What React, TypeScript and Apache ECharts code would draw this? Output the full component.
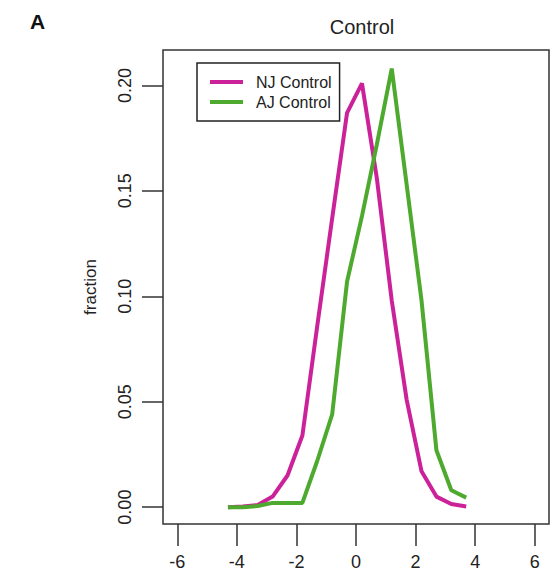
import React, { useEffect, useRef } from "react";
import * as echarts from "echarts";

// Bin centres (x) shared by both series
const xValues = [-4.3, -3.8, -3.3, -2.8, -2.3, -1.8, -1.3, -0.8, -0.3, 0.2, 0.7, 1.2, 1.7, 2.2, 2.7, 3.2, 3.7];
const njControl = [0.0, 0.0003, 0.001, 0.005, 0.015, 0.034, 0.086, 0.137, 0.187, 0.201, 0.156, 0.098, 0.051, 0.017, 0.005, 0.0015, 0.0003];
const ajControl = [0.0, 0.0, 0.0005, 0.002, 0.002, 0.002, 0.022, 0.044, 0.107, 0.138, 0.172, 0.208, 0.153, 0.098, 0.027, 0.008, 0.0045];
const xTicks = [-6, -4, -2, 0, 2, 4, 6];
const yTicks = [0, 0.05, 0.1, 0.15, 0.2];
const seriesNames = ["NJ Control", "AJ Control"];
const seriesColors = ["#CC2299", "#4DAA2E"];

const FONT = "'Liberation Sans', Arial, Helvetica, sans-serif";

export default function App() {
  const ref = useRef<HTMLDivElement>(null);
  useEffect(() => {
    if (!ref.current) return;
    const chart = echarts.init(ref.current, null, { renderer: "svg" });
    const toPairs = (ys: number[]) => xValues.map((x, i) => [x, ys[i]]);
    chart.setOption({
      animation: false,
      backgroundColor: "#ffffff",
      textStyle: { fontFamily: FONT },
      title: [
        {
          text: "A",
          left: 25,
          top: 6,
          textStyle: { fontFamily: FONT, fontSize: 21, fontWeight: "bold", color: "#111" },
        },
        {
          text: "Control",
          left: 357,
          textAlign: "center",
          top: 12,
          textStyle: { fontFamily: FONT, fontSize: 20, fontWeight: "normal", color: "#222" },
        },
      ],
      legend: {
        show: true,
        left: 197,
        top: 63,
        orient: "vertical",
        data: seriesNames,
        icon: "rect",
        itemWidth: 33,
        itemHeight: 4,
        itemGap: 4,
        padding: [11, 8, 11, 13],
        borderColor: "#222",
        borderWidth: 1.5,
        backgroundColor: "#fff",
        textStyle: { fontFamily: FONT, fontSize: 16, color: "#222", padding: [0, 0, 0, 8] },
      },
      grid: {
        show: true,
        left: 163,
        top: 50,
        width: 386,
        height: 474,
        borderColor: "#333",
        borderWidth: 1.5,
        backgroundColor: "transparent",
        containLabel: false,
      },
      xAxis: {
        type: "value",
        min: -6.48,
        max: 6.48,
        axisLine: { show: false, onZero: false },
        splitLine: { show: false },
        axisTick: {
          show: true,
          customValues: xTicks,
          length: 22,
          lineStyle: { color: "#333", width: 1.5 },
        },
        axisLabel: {
          show: true,
          customValues: xTicks,
          margin: 29,
          fontFamily: FONT,
          fontSize: 18,
          color: "#222",
          formatter: (v: number) => String(v),
        },
      },
      yAxis: {
        type: "value",
        min: -0.008,
        max: 0.2168,
        name: "fraction",
        nameLocation: "middle",
        nameGap: 64,
        nameRotate: 90,
        nameTextStyle: { fontFamily: FONT, fontSize: 17, color: "#222" },
        axisLine: { show: false, onZero: false },
        splitLine: { show: false },
        axisTick: {
          show: true,
          customValues: yTicks,
          length: 21,
          lineStyle: { color: "#333", width: 1.5 },
        },
        axisLabel: {
          show: true,
          customValues: yTicks,
          rotate: 90,
          margin: 29,
          fontFamily: FONT,
          fontSize: 18,
          color: "#222",
          formatter: (v: number) => v.toFixed(2),
        },
      },
      series: [
        {
          name: seriesNames[0],
          type: "line",
          data: toPairs(njControl),
          showSymbol: false,
          symbol: "none",
          lineStyle: { color: seriesColors[0], width: 4 },
          itemStyle: { color: seriesColors[0] },
          z: 3,
        },
        {
          name: seriesNames[1],
          type: "line",
          data: toPairs(ajControl),
          showSymbol: false,
          symbol: "none",
          lineStyle: { color: seriesColors[1], width: 4 },
          itemStyle: { color: seriesColors[1] },
          z: 4,
        },
      ],
    });
    return () => chart.dispose();
  }, []);
  return (
    <div
      ref={ref}
      style={{ position: "fixed", left: 0, top: 0, width: 553, height: 577, background: "#fff" }}
    />
  );
}
